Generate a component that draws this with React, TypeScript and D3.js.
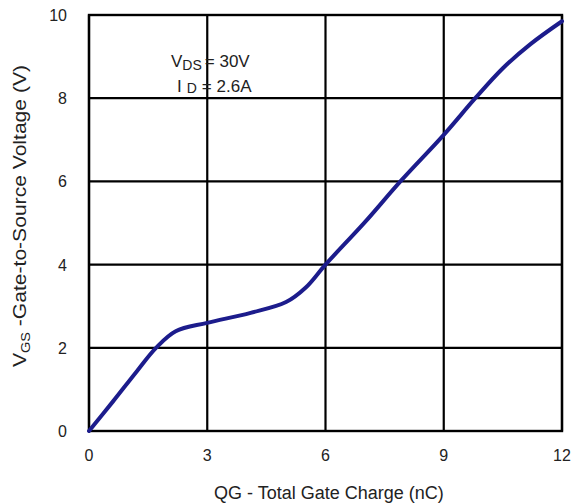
import React from "react";
import * as d3 from "d3";

const charge = [0, 0.6, 1.2, 1.7, 2.2, 3.0, 4.1, 5.0, 5.5, 6.0, 7.0, 7.9, 9.0, 9.8, 10.5, 11.2, 12.0];
const vgs = [0, 0.7, 1.42, 2.0, 2.4, 2.6, 2.84, 3.1, 3.45, 4.0, 5.02, 6.0, 7.12, 8.0, 8.72, 9.3, 9.85];
const xTicks = [0, 3, 6, 9, 12];
const yTicks = [0, 2, 4, 6, 8, 10];

const W = 571, H = 503;
const left = 89, right = 562, top = 15, bottom = 431;

export default function App() {
  const x = d3.scaleLinear().domain([0, 12]).range([left, right]);
  const y = d3.scaleLinear().domain([0, 10]).range([bottom, top]);
  const pts = charge.map((c, i) => [c, vgs[i]] as [number, number]);
  const line = d3.line<[number, number]>().x(d => x(d[0])).y(d => y(d[1])).curve(d3.curveCatmullRom.alpha(0.5));
  const font = "Liberation Sans, Arial, sans-serif";
  return (
    <svg width={W} height={H} style={{ position: "absolute", left: 0, top: 0, background: "#fff" }}>
      <rect x={0} y={0} width={W} height={H} fill="#fff" />
      {xTicks.map(t => (
        <line key={"gx" + t} x1={x(t)} x2={x(t)} y1={top} y2={bottom} stroke="#000" strokeWidth={2.2} />
      ))}
      {yTicks.map(t => (
        <line key={"gy" + t} x1={left} x2={right} y1={y(t)} y2={y(t)} stroke="#000" strokeWidth={2.2} />
      ))}
      <rect x={left} y={top} width={right - left} height={bottom - top} fill="none" stroke="#000" strokeWidth={2.4} />
      <path d={line(pts) || ""} fill="none" stroke="#1c1c8c" strokeWidth={4} strokeLinecap="round" />
      {xTicks.map(t => (
        <text key={"tx" + t} x={x(t)} y={461} textAnchor="middle" fontFamily={font} fontSize={16} fill="#222">{t}</text>
      ))}
      {yTicks.map(t => (
        <text key={"ty" + t} x={67} y={y(t) + 6} textAnchor="end" fontFamily={font} fontSize={16} fill="#222">{t}</text>
      ))}
      <text x={329} y={499} textAnchor="middle" fontFamily={font} fontSize={18} fill="#222">QG - Total Gate Charge (nC)</text>
      <text transform={`translate(26,216) rotate(-90)`} textAnchor="middle" fontFamily={font} fontSize={19} fill="#222"
        textLength={302} lengthAdjust="spacingAndGlyphs">
        V<tspan fontSize={13} dy={4}>GS</tspan><tspan dy={-4}> -Gate-to-Source Voltage (V)</tspan>
      </text>
      <text x={171} y={67} fontFamily={font} fontSize={17} fill="#222">
        V<tspan fontSize={14} dy={3}>DS</tspan><tspan dy={-3} dx={3}>= 30V</tspan>
      </text>
      <text x={177} y={92} fontFamily={font} fontSize={17} fill="#222">
        I<tspan fontSize={14} dx={5} dy={1}>D</tspan><tspan dy={-1} dx={5}>= 2.6A</tspan>
      </text>
    </svg>
  );
}
